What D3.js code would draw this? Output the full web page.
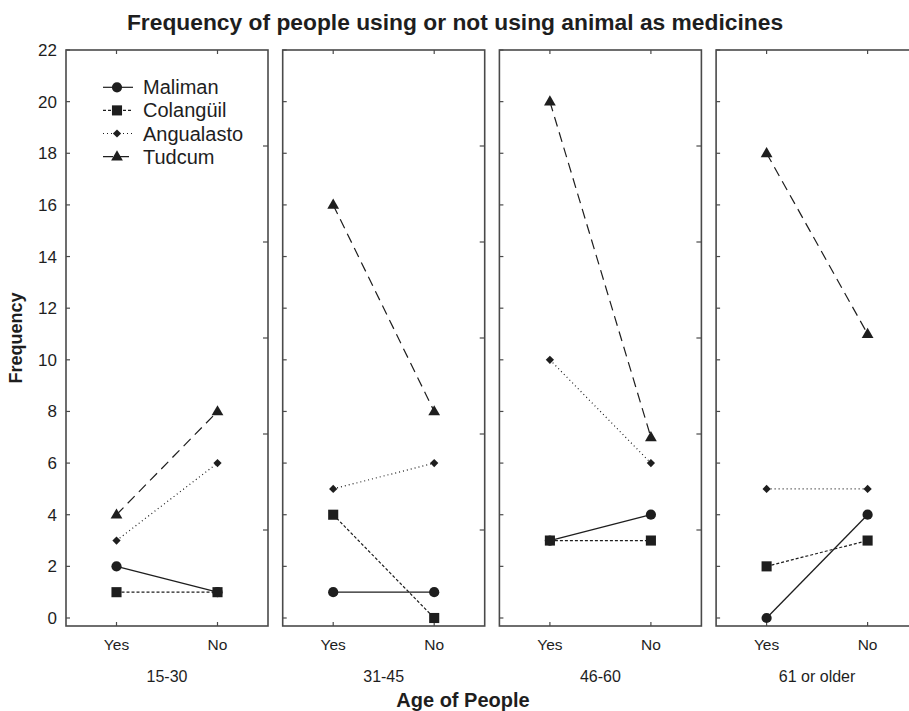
<!DOCTYPE html>
<html><head><meta charset="utf-8">
<script src="https://cdn.jsdelivr.net/npm/d3@7"></script>
<style>body{margin:0;background:#fff}svg{display:block}text{font-family:"Liberation Sans",Arial,sans-serif;fill:#1e1e1e}</style>
</head><body>
<svg id="c" width="909" height="711"></svg>
<script>
const ageGroups = ["15-30","31-45","46-60","61 or older"];
const answers = ["Yes","No"];
const seriesNames = ["Maliman","Colangüil","Angualasto","Tudcum"];
// values per age group: [Yes, No]
const maliman    = [[2,1],[1,1],[3,4],[0,4]];
const colanguil  = [[1,1],[4,0],[3,3],[2,3]];
const angualasto = [[3,6],[5,6],[10,6],[5,5]];
const tudcum     = [[4,8],[16,8],[20,7],[18,11]];
const yTicks = [0,2,4,6,8,10,12,14,16,18,20,22];

const seriesData = [maliman, colanguil, angualasto, tudcum];
const dashes = [null, "3,2", "1,3", "10,6"];
const symbols = [d3.symbolCircle, d3.symbolSquare, d3.symbolSquare, d3.symbolTriangle];
const symSizes = [82, 102, 34, 60];
const symRot = [0, 0, 45, 0];

const svg = d3.select("#c");
const plotTop = 50, plotBottom = 626, pw = 202, firstLeft = 66, step = 216.7;
const y = d3.scaleLinear().domain([-0.31, 22]).range([plotBottom, plotTop]);
const ink = "#1e1e1e", frame = "#4a4a4a";

function marker(sel, k, cx, cy) {
  sel.append("path").attr("d", d3.symbol().type(symbols[k]).size(symSizes[k])())
    .attr("transform", `translate(${cx},${cy}) rotate(${symRot[k]})`).attr("fill", ink);
}

svg.append("text").attr("x", 455).attr("y", 30).attr("text-anchor","middle")
  .style("font-size","22.8px").style("font-weight","bold").text("Frequency of people using or not using animal as medicines");

svg.append("g").selectAll("text").data(yTicks).join("text")
  .attr("x", 57).attr("y", d => y(d) + 6).attr("text-anchor","end")
  .style("font-size","17px").text(d => d);

svg.append("text").attr("transform", `translate(22,${(plotTop+plotBottom)/2}) rotate(-90)`)
  .attr("text-anchor","middle").style("font-size","18px").style("font-weight","bold").text("Frequency");

svg.append("text").attr("x", 463).attr("y", 707).attr("text-anchor","middle")
  .style("font-size","20px").style("font-weight","bold").text("Age of People");

ageGroups.forEach((g, i) => {
  const left = firstLeft + i * step;
  const x = d3.scalePoint().domain(answers).range([left, left + pw]).padding(0.5);
  const p = svg.append("g");
  p.append("rect").attr("x", left).attr("y", plotTop).attr("width", pw).attr("height", plotBottom - plotTop)
    .attr("fill","none").attr("stroke", frame).attr("stroke-width", 1.6);
  p.selectAll("line.yl").data(yTicks).join("line")
    .attr("x1", left).attr("x2", left + 4).attr("y1", d => y(d)).attr("y2", d => y(d))
    .attr("stroke", frame).attr("stroke-width", 1.2);
  const rt = d3.range(1, 6).map(k => plotTop + k * (plotBottom - plotTop) / 6);
  p.selectAll("line.yr").data(rt).join("line")
    .attr("x1", left + pw).attr("x2", left + pw - 5).attr("y1", d => d).attr("y2", d => d)
    .attr("stroke", frame).attr("stroke-width", 1.2);
  answers.forEach(a => {
    p.append("line").attr("x1", x(a)).attr("x2", x(a)).attr("y1", plotTop).attr("y2", plotTop + 4)
      .attr("stroke", frame).attr("stroke-width", 1.2);
    p.append("line").attr("x1", x(a)).attr("x2", x(a)).attr("y1", plotBottom).attr("y2", plotBottom - 4)
      .attr("stroke", frame).attr("stroke-width", 1.2);
    p.append("text").attr("x", x(a)).attr("y", 650).attr("text-anchor","middle")
      .style("font-size","15.5px").text(a);
  });
  p.append("text").attr("x", left + pw / 2).attr("y", 682).attr("text-anchor","middle")
    .style("font-size","16px").text(g);

  const line = d3.line().x((d, j) => x(answers[j])).y(d => y(d));
  seriesData.forEach((s, k) => {
    const vals = s[i];
    p.append("path").attr("d", line(vals)).attr("fill","none").attr("stroke", ink)
      .attr("stroke-width", k === 0 ? 1.3 : 1.2).attr("stroke-dasharray", dashes[k]);
    vals.forEach((v, j) => marker(p, k, x(answers[j]), y(v) + (k === 3 ? 0.5 : 0)));
  });
});

const lg = svg.append("g");
seriesNames.forEach((n, k) => {
  const yy = 87.3 + k * 23.1;
  lg.append("line").attr("x1", 103).attr("x2", 133).attr("y1", yy).attr("y2", yy)
    .attr("stroke", ink).attr("stroke-width", 1.2).attr("stroke-dasharray", dashes[k]);
  marker(lg, k, 117, yy + (k === 3 ? 0.5 : 0));
  lg.append("text").attr("x", 143).attr("y", yy + 7).style("font-size","20px").text(n);
});
</script>
</body></html>
